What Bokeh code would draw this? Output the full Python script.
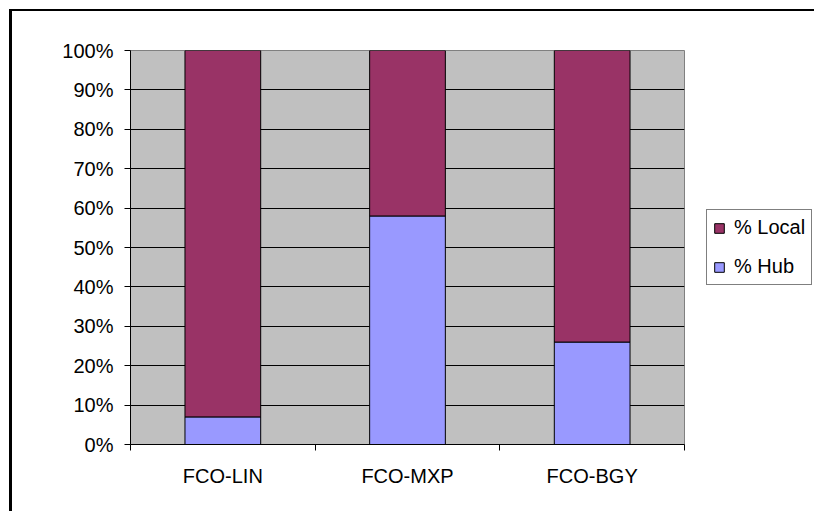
from bokeh.plotting import figure
from bokeh.models import (ColumnDataSource, FixedTicker, PrintfTickFormatter,
                          Legend, LegendItem, Range1d)
from bokeh.embed import file_html
from bokeh.resources import INLINE

# ---- data ----
categories = ["FCO-LIN", "FCO-MXP", "FCO-BGY"]
hub_pct = [7, 58, 26]
local_pct = [93, 42, 74]
series_labels = ["% Local", "% Hub"]
y_tick_values = [0, 10, 20, 30, 40, 50, 60, 70, 80, 90, 100]

HUB_COLOR = "#9999FF"
LOCAL_COLOR = "#993366"
FONT = "Liberation Sans"
FSIZE = "20px"

xs = [i + 0.5 for i in range(len(categories))]
src = ColumnDataSource(dict(x=xs, hub=hub_pct, local=local_pct))

p = figure(frame_width=554, frame_height=394,
           x_range=Range1d(0, len(categories)), y_range=Range1d(0, 100),
           output_backend="svg", toolbar_location=None,
           min_border_left=118, min_border_right=130,
           min_border_top=39, min_border_bottom=69,
           background_fill_color="#C0C0C0", border_fill_color="white",
           outline_line_color="#808080", outline_line_width=1)

# outer chart border: only its left and top edges fall inside the window
p.styles = {"margin-left": "12px", "margin-top": "11px",
            "box-shadow": "-3px -2px 0px 0px black"}

renderers = p.vbar_stack(["hub", "local"], x="x", width=0.41, source=src,
                         fill_color=[HUB_COLOR, LOCAL_COLOR],
                         line_color="black", line_width=1)
r_hub, r_local = renderers

# x axis: labels at category centres, tick marks at category boundaries
xa = p.xaxis[0]
xa.ticker = FixedTicker(ticks=xs, minor_ticks=list(range(len(categories) + 1)))
xa.major_label_overrides = {x: c for x, c in zip(xs, categories)}
xa.major_tick_out = 0
xa.major_tick_in = 0
xa.minor_tick_out = 6
xa.minor_tick_in = 0
xa.minor_tick_line_color = "black"
xa.axis_line_color = "black"
xa.major_label_text_font = FONT
xa.major_label_text_font_size = FSIZE
xa.major_label_text_color = "black"
xa.major_label_standoff = 14

ya = p.yaxis[0]
ya.ticker = FixedTicker(ticks=y_tick_values, minor_ticks=[])
ya.formatter = PrintfTickFormatter(format="%d%%")
ya.major_tick_out = 6
ya.major_tick_in = 0
ya.major_tick_line_color = "black"
ya.minor_tick_line_color = None
ya.axis_line_color = "black"
ya.major_label_text_font = FONT
ya.major_label_text_font_size = FSIZE
ya.major_label_text_color = "black"
ya.major_label_standoff = 11

p.xgrid.visible = False
p.ygrid.ticker = FixedTicker(ticks=y_tick_values)
p.ygrid.grid_line_color = "black"
p.ygrid.grid_line_width = 1

legend = Legend(items=[LegendItem(label=series_labels[0], renderers=[r_local]),
                       LegendItem(label=series_labels[1], renderers=[r_hub])],
                location=(22, 159), orientation="vertical")
legend.label_text_font = FONT
legend.label_text_font_size = FSIZE
legend.label_text_color = "black"
legend.glyph_width = 12
legend.glyph_height = 12
legend.label_height = 20
legend.spacing = 16
legend.padding = 6
legend.margin = 0
legend.label_standoff = 9
legend.border_line_color = "black"
legend.border_line_width = 1
legend.background_fill_color = "white"
legend.background_fill_alpha = 1
p.add_layout(legend, "right")

open("out.html", "w").write(file_html(p, INLINE))
